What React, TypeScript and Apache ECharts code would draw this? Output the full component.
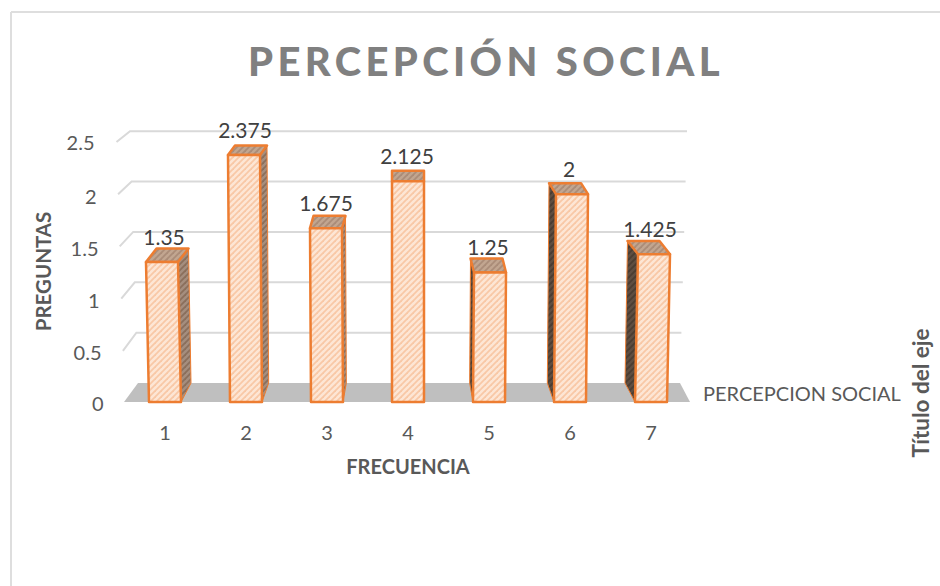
import React, { useEffect, useRef } from "react";
import * as echarts from "echarts";

const titleText = "PERCEPCIÓN SOCIAL";
const categories = ["1", "2", "3", "4", "5", "6", "7"];
const values = [1.35, 2.375, 1.675, 2.125, 1.25, 2, 1.425];
const gridTicks = [0, 0.5, 1, 1.5, 2, 2.5];
const seriesLabel = "PERCEPCION SOCIAL";
const xName = "FRECUENCIA";
const yName = "PREGUNTAS";
const depthName = "Título del eje";

const FONT = "Lato, 'Open Sans', sans-serif";
const TEXT = "#595959";
const EDGE = "#ED7D31";

function hatch(bg: string, line: string) {
  const c = document.createElement("canvas");
  c.width = 6;
  c.height = 6;
  const g = c.getContext("2d")!;
  g.fillStyle = bg;
  g.fillRect(0, 0, 6, 6);
  g.strokeStyle = line;
  g.lineWidth = 1.8;
  for (let i = -6; i <= 12; i += 6) {
    g.beginPath();
    g.moveTo(i - 1, 7);
    g.lineTo(i + 7, -1);
    g.stroke();
  }
  return { image: c, repeat: "repeat" as const };
}

export default function App() {
  const ref = useRef<HTMLDivElement>(null);
  useEffect(() => {
    const chart = echarts.init(ref.current!, null, { renderer: "svg" });
    const front = hatch("#FDE6D5", "#F8C8A6");
    const sideR = hatch("#A58E7E", "#8A6F5C");
    const sideL = hatch("#5E4E42", "#4A3C32");
    const top = hatch("#C2A690", "#AA8C78");

    const renderGrid = (params: any, api: any) => {
      const v = api.value(0);
      const yFront = api.coord([0, v])[1];
      const yBase = api.coord([0, 0])[1];
      const yBack = yBase - 19 - (yBase - yFront) * 0.965;
      const t = v / 2.5;
      const lx = 138 - 8 * t;
      const rx = 680 + 7 * t;
      if (v === 0) {
        return {
          type: "polygon",
          shape: { points: [[124, yBase], [lx, yBack], [rx, yBack], [690, yBase]] },
          style: { fill: "#BFBFBF" },
          silent: true,
        };
      }
      return {
        type: "polyline",
        shape: { points: [[lx - 13.5, yFront + 1], [lx, yBack], [rx, yBack]] },
        style: { stroke: "#D9D9D9", lineWidth: 2, fill: "none" },
        silent: true,
      };
    };

    const renderBar = (params: any, api: any) => {
      const i = api.value(0);
      const v = api.value(1);
      const [cx, yTopRaw] = api.coord([i, v]);
      const yTop = yTopRaw + 1;
      const yBase = api.coord([i, 0])[1];
      const half = 16;
      const offset = (408 - cx) / 243;
      const tilt = -offset * 3;
      const dxTop = offset * 10.5;
      const dyTop = -(19 - 4 * v);
      const dxBase = offset * 10;
      const fl = [cx - half, yBase];
      const fr = [cx + half, yBase];
      const tl = [cx - half + tilt, yTop];
      const tr = [cx + half + tilt, yTop];
      const bl = [tl[0] + dxTop, yTop + dyTop];
      const br = [tr[0] + dxTop, yTop + dyTop];
      const children: any[] = [];
      const face = (points: number[][], fill: any, lineWidth = 2.5) => ({
        type: "polygon",
        shape: { points },
        style: { fill, stroke: EDGE, lineWidth, lineJoin: "round" },
      });
      if (offset > 0.02) {
        children.push(face([fr, tr, br, [fr[0] + dxBase, yBase - 19]], sideR, 1));
      } else if (offset < -0.02) {
        children.push(face([fl, tl, bl, [fl[0] + dxBase, yBase - 19]], sideL, 1));
      }
      children.push(face([tl, tr, br, bl], top));
      children.push(face([fl, fr, tr, tl], front));
      children.push({
        type: "text",
        style: {
          text: String(v),
          x: cx - 1,
          y: yTop - 26,
          align: "center",
          verticalAlign: "middle",
          fill: "#404040",
          font: `21px ${FONT}`,
        },
      });
      return { type: "group", children };
    };

    const tickRich: any = {};
    gridTicks.forEach((t, i) => {
      const pt = i >= 1 && i <= 4 ? 5 : 2;
      tickRich["t" + i] = { padding: [pt, Math.round(i * 1.8), 0, 0] };
    });

    chart.setOption({
      animation: false,
      backgroundColor: "#fff",
      title: {
        text: titleText,
        left: 481,
        top: 36,
        textAlign: "center",
        textStyle: { fontFamily: FONT, fontWeight: 900, fontSize: 40, color: "#808080" },
      },
      grid: { left: 124.5, top: 141, width: 567, height: 261 },
      xAxis: {
        type: "category",
        data: categories,
        axisLine: { show: false },
        axisTick: { show: false },
        axisLabel: { fontFamily: FONT, fontSize: 20, color: TEXT, margin: 20 },
        name: xName,
        nameLocation: "middle",
        nameGap: 54,
        nameTextStyle: { fontFamily: FONT, fontSize: 20, fontWeight: "bold", color: TEXT },
      },
      yAxis: {
        type: "value",
        min: 0,
        max: 2.5,
        interval: 0.5,
        splitLine: { show: false },
        axisLine: { show: false },
        axisTick: { show: false },
        axisLabel: {
          fontFamily: FONT,
          fontSize: 20,
          color: TEXT,
          margin: 21,
          formatter: (v: number) => `{t${gridTicks.indexOf(v)}|${v}}`,
          rich: tickRich,
        },
        name: yName,
        nameLocation: "middle",
        nameGap: 71,
        nameTextStyle: { fontFamily: FONT, fontSize: 20.5, fontWeight: "bold", color: TEXT },
      },
      series: [
        {
          type: "custom",
          name: "grid",
          coordinateSystem: "cartesian2d",
          data: gridTicks.map((t) => [t]),
          encode: { y: 0 },
          renderItem: renderGrid,
          clip: false,
          silent: true,
          z: 1,
        },
        {
          type: "custom",
          name: seriesLabel,
          coordinateSystem: "cartesian2d",
          data: values.map((v, i) => [i, v]),
          encode: { x: 0, y: 1 },
          renderItem: renderBar,
          clip: false,
          z: 2,
        },
      ],
      graphic: [
        { type: "line", shape: { x1: 11, y1: 12, x2: 940, y2: 12 }, style: { stroke: "#DEDEDE", lineWidth: 2 } },
        { type: "line", shape: { x1: 11, y1: 12, x2: 11, y2: 586 }, style: { stroke: "#DEDEDE", lineWidth: 2 } },
        {
          type: "text",
          x: 703,
          y: 393,
          style: { text: seriesLabel, fill: TEXT, font: `20px ${FONT}`, verticalAlign: "middle", align: "left" },
        },
        {
          type: "text",
          x: 920,
          y: 393,
          rotation: Math.PI / 2,
          style: { text: depthName, fill: TEXT, font: `bold 22.5px ${FONT}`, verticalAlign: "middle", align: "center" },
        },
      ],
    });

    ref.current!.querySelectorAll("text").forEach((t) => {
      if (t.textContent === titleText) t.setAttribute("letter-spacing", "4.4");
    });
    return () => chart.dispose();
  }, []);
  return <div ref={ref} style={{ position: "fixed", left: 0, top: 0, width: 940, height: 586 }} />;
}
